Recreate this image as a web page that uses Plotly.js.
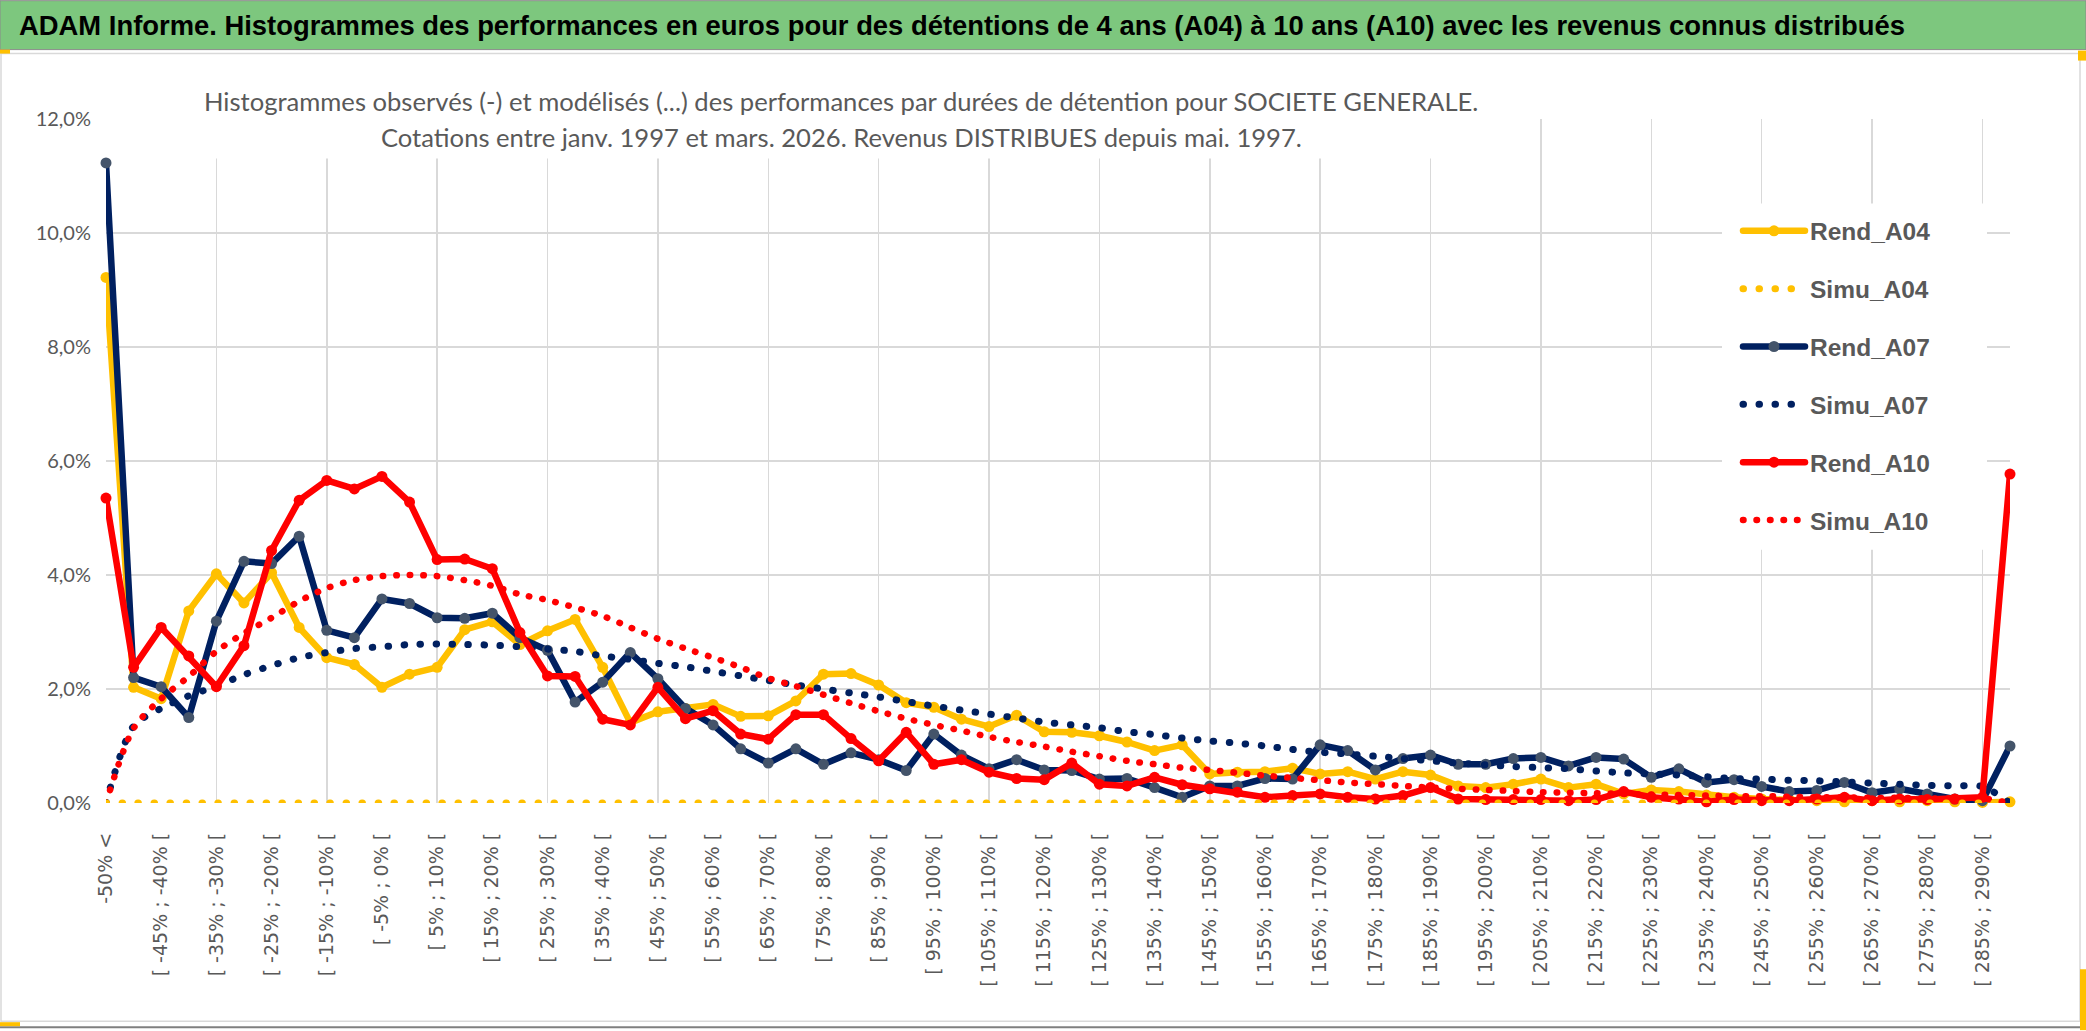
<!DOCTYPE html>
<html>
<head>
<meta charset="utf-8">
<script src="https://cdn.plot.ly/plotly-3.0.1.min.js"></script>
<style>
html,body{margin:0;padding:0;background:#fff;}
#chart{width:2086px;height:1031px;}
.js-line{stroke-linecap:round !important;stroke-linejoin:round !important;}
</style>
</head>
<body>
<div id="chart"></div>
<script>
// ---------- DATA ----------
const categories = [
 "-50% <","[ -50% ; -45% [","[ -45% ; -40% [","[ -40% ; -35% [","[ -35% ; -30% [","[ -30% ; -25% [",
 "[ -25% ; -20% [","[ -20% ; -15% [","[ -15% ; -10% [","[ -10% ; -5% [","[ -5% ; 0% [","[ 0% ; 5% [",
 "[ 5% ; 10% [","[ 10% ; 15% [","[ 15% ; 20% [","[ 20% ; 25% [","[ 25% ; 30% [","[ 30% ; 35% [",
 "[ 35% ; 40% [","[ 40% ; 45% [","[ 45% ; 50% [","[ 50% ; 55% [","[ 55% ; 60% [","[ 60% ; 65% [",
 "[ 65% ; 70% [","[ 70% ; 75% [","[ 75% ; 80% [","[ 80% ; 85% [","[ 85% ; 90% [","[ 90% ; 95% [",
 "[ 95% ; 100% [","[ 100% ; 105% [","[ 105% ; 110% [","[ 110% ; 115% [","[ 115% ; 120% [","[ 120% ; 125% [",
 "[ 125% ; 130% [","[ 130% ; 135% [","[ 135% ; 140% [","[ 140% ; 145% [","[ 145% ; 150% [","[ 150% ; 155% [",
 "[ 155% ; 160% [","[ 160% ; 165% [","[ 165% ; 170% [","[ 170% ; 175% [","[ 175% ; 180% [","[ 180% ; 185% [",
 "[ 185% ; 190% [","[ 190% ; 195% [","[ 195% ; 200% [","[ 200% ; 205% [","[ 205% ; 210% [","[ 210% ; 215% [",
 "[ 215% ; 220% [","[ 220% ; 225% [","[ 225% ; 230% [","[ 230% ; 235% [","[ 235% ; 240% [","[ 240% ; 245% [",
 "[ 245% ; 250% [","[ 250% ; 255% [","[ 255% ; 260% [","[ 260% ; 265% [","[ 265% ; 270% [","[ 270% ; 275% [",
 "[ 275% ; 280% [","[ 280% ; 285% [","[ 285% ; 290% [","> 290%"
];

// values in %
const rendA04 = [9.22,2.03,1.83,3.37,4.02,3.51,4.04,3.08,2.55,2.43,2.03,2.26,2.38,3.04,3.18,2.78,3.02,3.22,
 2.38,1.41,1.60,1.66,1.73,1.52,1.53,1.79,2.26,2.27,2.07,1.76,1.68,1.47,1.34,1.54,1.25,1.24,
 1.18,1.07,0.92,1.02,0.51,0.54,0.55,0.61,0.51,0.55,0.42,0.55,0.49,0.30,0.27,0.33,0.42,0.27,
 0.33,0.16,0.23,0.20,0.14,0.10,0.07,0.06,0.04,0.02,0.04,0.02,0.04,0.02,0.01,0.02];

const simuA04 = [0,0,0,0,0,0,0,0,0,0,0,0,0,0,0,0,0,0,0,0,0,0,0,0,0,0,0,0,0,0,0,0,0,0,0,0,
 0,0,0,0,0,0,0,0,0,0,0,0,0,0,0,0,0,0,0,0,0,0,0,0,0,0,0,0,0,0,0,0,0,0];

const rendA07 = [11.23,2.20,2.04,1.50,3.19,4.24,4.20,4.68,3.03,2.90,3.58,3.50,3.25,3.24,3.33,2.90,2.68,1.77,
 2.12,2.64,2.18,1.66,1.37,0.95,0.70,0.95,0.68,0.88,0.76,0.57,1.21,0.84,0.60,0.76,0.58,0.57,
 0.42,0.43,0.27,0.10,0.30,0.30,0.43,0.42,1.02,0.92,0.58,0.78,0.84,0.68,0.68,0.78,0.80,0.65,
 0.80,0.77,0.45,0.60,0.36,0.41,0.29,0.20,0.22,0.36,0.18,0.25,0.16,0.07,0.04,1.00];

const simuA07 = [0,1.35,1.66,1.88,2.05,2.25,2.41,2.55,2.64,2.71,2.74,2.78,2.79,2.78,2.77,2.74,2.70,2.66,
 2.58,2.52,2.45,2.39,2.31,2.23,2.15,2.07,2.00,1.93,1.86,1.78,1.70,1.63,1.56,1.49,1.42,1.37,
 1.32,1.25,1.20,1.14,1.09,1.05,1.00,0.94,0.89,0.86,0.82,0.78,0.74,0.70,0.67,0.64,0.62,0.60,
 0.56,0.53,0.51,0.49,0.46,0.43,0.42,0.40,0.39,0.37,0.35,0.33,0.31,0.30,0.29,0];

const rendA10 = [5.35,2.38,3.08,2.58,2.04,2.76,4.43,5.31,5.66,5.51,5.73,5.28,4.27,4.28,4.11,2.99,2.23,2.22,
 1.47,1.37,2.03,1.48,1.62,1.21,1.12,1.55,1.55,1.13,0.74,1.24,0.68,0.76,0.54,0.43,0.41,0.70,
 0.33,0.30,0.45,0.32,0.25,0.19,0.10,0.13,0.16,0.10,0.07,0.13,0.27,0.07,0.06,0.06,0.06,0.04,
 0.06,0.20,0.10,0.07,0.02,0.06,0.04,0.04,0.07,0.10,0.04,0.07,0.06,0.07,0.10,5.77];

const simuA10 = [0,1.31,1.83,2.22,2.66,2.98,3.25,3.54,3.77,3.91,3.98,4.00,3.98,3.91,3.81,3.66,3.56,3.43,
 3.28,3.08,2.88,2.71,2.55,2.38,2.19,2.05,1.90,1.75,1.61,1.48,1.37,1.27,1.16,1.07,0.99,0.90,
 0.82,0.74,0.68,0.62,0.58,0.53,0.48,0.44,0.40,0.36,0.33,0.30,0.27,0.25,0.23,0.21,0.19,0.18,
 0.17,0.16,0.15,0.14,0.13,0.12,0.12,0.11,0.10,0.10,0.09,0.09,0.08,0.08,0.08,0];

const yTickVals = [0,2,4,6,8,10,12];
const yTickText = ["0,0%","2,0%","4,0%","6,0%","8,0%","10,0%","12,0%"];

// ---------- LAYOUT GEOMETRY ----------
const W = 2086, H = 1031;
const ML = 106, MR = 76, MT = 118.5, MB = 227.5;
const PW = W - ML - MR, PH = H - MT - MB;
const PX = x => (x - ML) / PW;
const PY = y => (H - MB - y) / PH;

const YELLOW = '#FFC000', NAVY = '#002060', NAVYMK = '#44546A', RED = '#FF0000';
const GRAY = '#595959';

const labelTicks = categories.filter((c, i) => i % 2 === 0);
const gridTicks = categories.filter((c, i) => i % 4 === 0);

function rend(name, y, color, mk) {
  return {type: 'scatter', mode: 'lines+markers', name: name, legendgroup: name,
    x: categories, y: y, line: {color: color, width: 6.5},
    marker: {color: mk, size: 11, line: {width: 0}}, cliponaxis: false};
}
function simu(name, y, color, width, dash, axis) {
  const t = {type: 'scatter', mode: 'lines', name: name, legendgroup: name,
    x: categories, y: y, line: {color: color, width: width, dash: dash, shape: 'spline', smoothing: 0.8},
    cliponaxis: false};
  if (axis) t.xaxis = axis;
  return t;
}

const data = [
  rend('Rend_A04', rendA04, YELLOW, YELLOW),
  simu('Simu_A04', simuA04, YELLOW, 7, '0.5px,15.5px', 'x2'),
  rend('Rend_A07', rendA07, NAVY, NAVYMK),
  simu('Simu_A07', simuA07, NAVY, 7, '0.5px,15.5px'),
  rend('Rend_A10', rendA10, RED, RED),
  simu('Simu_A10', simuA10, RED, 6.5, '0.5px,13px')
];

const layout = {
  width: W, height: H, autosize: false,
  margin: {l: ML, r: MR, t: MT, b: MB, pad: 0},
  paper_bgcolor: '#ffffff', plot_bgcolor: '#ffffff',
  separators: ', ',
  showlegend: true,
  title: {
    text: 'ADAM Informe. Histogrammes des performances en euros pour des détentions de 4 ans (A04) à 10 ans (A10) avec les revenus connus distribués',
    font: {family: '"Liberation Sans", Arial, sans-serif', size: 27.4, color: '#000000', weight: 'bold'},
    xref: 'paper', x: PX(962), xanchor: 'center',
    yref: 'container', y: 1 - 25 / H, yanchor: 'middle'
  },
  xaxis: {
    type: 'category', range: [0, categories.length - 1],
    tickmode: 'array', tickvals: labelTicks, ticktext: labelTicks,
    tickangle: -90, ticks: '', showgrid: false, zeroline: false, showline: false,
    tickfont: {family: '"DejaVu Sans", sans-serif', size: 19, color: GRAY},
    ticklabelstandoff: 25, automargin: false, fixedrange: true
  },
  xaxis2: {
    type: 'category', overlaying: 'x', range: [0, categories.length - 1],
    tickmode: 'array', tickvals: gridTicks, showticklabels: false, ticks: '',
    showgrid: true, gridcolor: '#D9D9D9', gridwidth: 1.5, zeroline: false, showline: false,
    automargin: false, fixedrange: true
  },
  yaxis: {
    range: [0, 12], tickmode: 'array', tickvals: yTickVals, ticktext: yTickText, ticks: '',
    showgrid: true, gridcolor: '#D9D9D9', gridwidth: 1.5, zeroline: false, showline: false,
    tickfont: {family: 'Lato, sans-serif', size: 20, color: GRAY},
    ticklabelstandoff: 14, automargin: false, fixedrange: true
  },
  legend: {
    x: PX(1738), xanchor: 'left', y: PY(208), yanchor: 'top',
    bgcolor: '#ffffff', borderwidth: 0,
    font: {family: '"Liberation Sans", Arial, sans-serif', size: 24.5, color: GRAY, weight: 'bold'},
    traceorder: 'grouped', tracegroupgap: 23, itemwidth: 62, itemclick: false
  },
  annotations: [
    {text: 'Histogrammes observés (-) et modélisés (...) des performances par durées de détention pour SOCIETE GENERALE.',
     xref: 'paper', yref: 'paper', x: PX(841), y: PY(100), xanchor: 'center', yanchor: 'middle',
     showarrow: false, borderpad: 2,
     font: {family: 'Lato, sans-serif', size: 25.6, color: GRAY}},
    {text: 'Cotations entre janv. 1997 et mars. 2026. Revenus DISTRIBUES depuis mai. 1997.',
     xref: 'paper', yref: 'paper', x: PX(841), y: PY(137), xanchor: 'center', yanchor: 'middle',
     showarrow: false, borderpad: 2,
     font: {family: 'Lato, sans-serif', size: 25.6, color: GRAY}}
  ],
  shapes: [
    {type: 'rect', xref: 'paper', yref: 'paper', layer: 'below',
     x0: PX(0), x1: PX(W), y0: PY(49), y1: PY(0),
     fillcolor: '#7DC77E', line: {color: '#8A8A8A', width: 1}},
    {type: 'rect', xref: 'paper', yref: 'paper', layer: 'below',
     x0: PX(1), x1: PX(2080), y0: PY(1022), y1: PY(53),
     fillcolor: 'rgba(0,0,0,0)', line: {color: '#D9D9D9', width: 1.5}},
    {type: 'line', xref: 'paper', yref: 'paper', layer: 'below',
     x0: PX(0), x1: PX(W), y0: PY(1028), y1: PY(1028), line: {color: '#7F7F7F', width: 2}},
    {type: 'rect', xref: 'paper', yref: 'paper', layer: 'below',
     x0: PX(0), x1: PX(20), y0: PY(1027), y1: PY(1023), fillcolor: YELLOW, line: {width: 0}},
    {type: 'rect', xref: 'paper', yref: 'paper', layer: 'below',
     x0: PX(2080), x1: PX(2086), y0: PY(1031), y1: PY(970), fillcolor: YELLOW, line: {width: 0}},
    {type: 'rect', xref: 'paper', yref: 'paper', layer: 'below',
     x0: PX(0), x1: PX(10), y0: PY(53), y1: PY(49), fillcolor: YELLOW, line: {width: 0}},
    {type: 'rect', xref: 'paper', yref: 'paper', layer: 'below',
     x0: PX(2078), x1: PX(2086), y0: PY(60), y1: PY(50), fillcolor: YELLOW, line: {width: 0}},
    // subtitle box (white, hides grid behind the chart title)
    {type: 'rect', xref: 'paper', yref: 'paper', layer: 'above',
     x0: PX(199), x1: PX(1490), y0: PY(158), y1: PY(62), fillcolor: '#ffffff', line: {width: 0}},
    // legend box (white)
    {type: 'rect', xref: 'paper', yref: 'paper', layer: 'above',
     x0: PX(1722), x1: PX(1987), y0: PY(550), y1: PY(203), fillcolor: '#ffffff', line: {width: 0}}
  ]
};

Plotly.newPlot('chart', data, layout, {displayModeBar: false, staticPlot: true});
</script>
</body>
</html>
